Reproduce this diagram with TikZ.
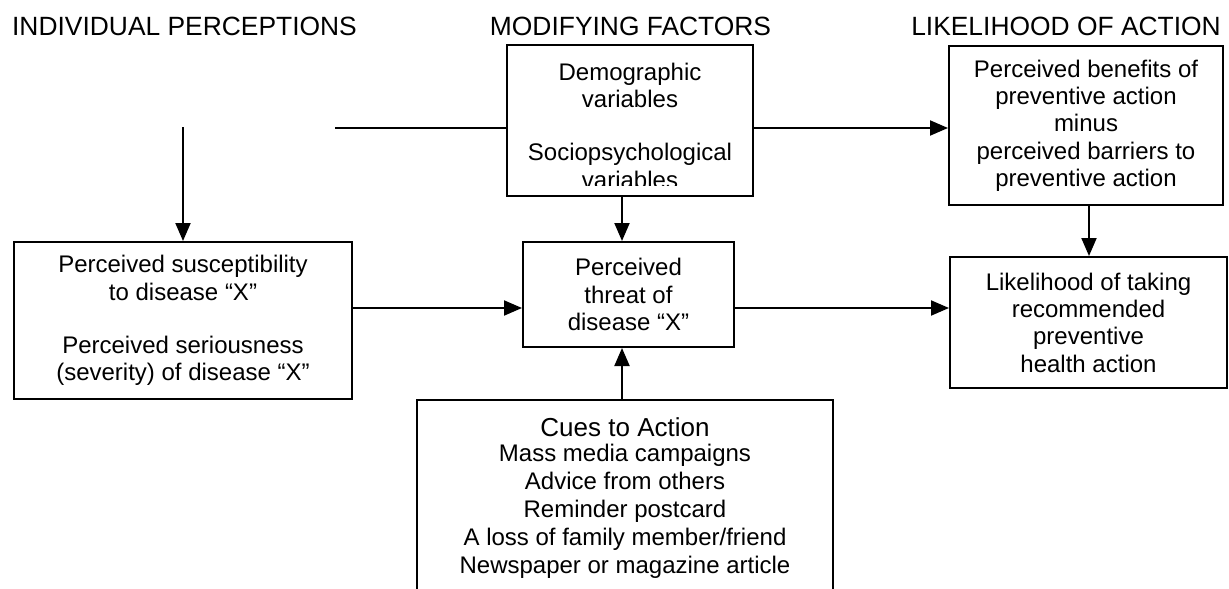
\documentclass[tikz,border=0pt]{standalone}
\usepackage{fontspec}
\setmainfont{Liberation Sans}
\usetikzlibrary{arrows.meta}
\newcommand\hbmbody{\fontsize{24}{27.3}\selectfont}
\newcommand\hbmcues{\fontsize{24}{28}\selectfont}
\newcommand\hbmhead{\fontsize{26.4}{30}\selectfont}
\newcommand\hbmtitle{\fontsize{26}{28}\selectfont}
\tikzset{
  box/.style={draw, line width=2pt, inner sep=0pt, align=center, font=\hbmbody},
  txt/.style={inner sep=0pt, align=center, font=\hbmbody},
  head/.style={inner sep=0pt, anchor=base, font=\hbmhead},
  arr/.style={line width=2pt, -{Triangle[length=18pt,width=15pt]}},
  plain/.style={line width=2pt}
}
\begin{document}
\begin{tikzpicture}[x=1pt,y=-1pt]
\useasboundingbox (0,0) rectangle (1229,589);
\clip (0,0) rectangle (1229,589);
% headings
\node[head] (h1) at (184.5,35) {INDIVIDUAL PERCEPTIONS};
\node[head] (h2) at (630.5,35) {MODIFYING FACTORS};
\node[head] (h3) at (1066,35) {LIKELIHOOD OF ACTION};
% boxes
\node[box, minimum width=246pt, minimum height=151pt] (demo) at (630,120.5) {};
\begin{scope}
\clip (507,45) rectangle (753,185);
\node[txt, anchor=north] (demotext) at (630,63) {Demographic\\variables\\[25.7pt]Sociopsychological\\variables};
\end{scope}
\node[box, minimum width=274pt, minimum height=159pt] (benefits) at (1086,125.5)
  {Perceived benefits of\\preventive action\\minus\\perceived barriers to\\preventive action};
\node[box, minimum width=338pt, minimum height=157pt] (susc) at (183,320.5)
  {Perceived susceptibility\\to disease “X”\\[25.7pt]Perceived seriousness\\(severity) of disease “X”};
\node[box, minimum width=211pt, minimum height=105pt] (threat) at (628.5,294.5)
  {Perceived\\threat of\\disease “X”};
\node[box, minimum width=277pt, minimum height=131pt] (like) at (1088.5,322.5)
  {Likelihood of taking\\recommended\\preventive\\health action};
\node[box, minimum width=416pt, minimum height=260pt, anchor=north] (cues) at (625,399) {};
\node[txt, font=\hbmcues, anchor=north] (cuestext) at (625,417)
  {{\hbmtitle Cues to Action}\\[-3pt]Mass media campaigns\\Advice from others\\Reminder postcard\\A loss of family member/friend\\Newspaper or magazine article};
% coordinates
\coordinate (r1) at (0,128);
\coordinate (r2) at (0,308);
\coordinate (colx) at (622,0);
\coordinate (colr) at (1089,0);
\coordinate (lstart) at (335,128);
\coordinate (vstart) at (183,127);
% connectors
\draw[plain] (lstart) -- (lstart -| demo.west);
\draw[arr] (vstart) -- (vstart |- susc.north);
\draw[arr] (demo.east |- r1) -- (benefits.west |- r1);
\draw[arr] (colx |- demo.south) -- (colx |- threat.north);
\draw[arr] (susc.east |- r2) -- (threat.west |- r2);
\draw[arr] (threat.east |- r2) -- (like.west |- r2);
\draw[arr] (colr |- benefits.south) -- (colr |- like.north);
\draw[arr] (colx |- cues.north) -- (colx |- threat.south);
\end{tikzpicture}
\end{document}
